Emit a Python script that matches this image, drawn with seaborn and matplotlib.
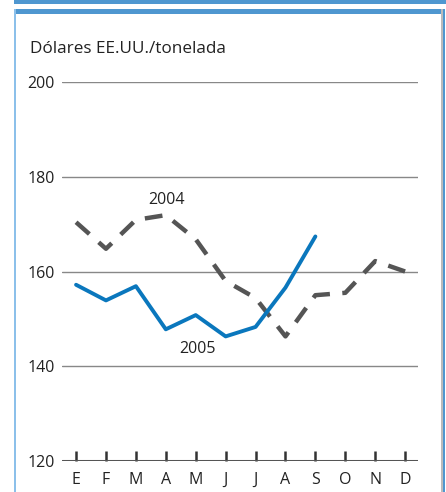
import matplotlib.pyplot as plt
import matplotlib.patches as mpatches
import seaborn as sns
import pandas as pd

# datos
meses = ['E', 'F', 'M', 'A', 'M', 'J', 'J', 'A', 'S', 'O', 'N', 'D']
precios_2004 = [170.4, 164.8, 170.9, 171.9, 166.8, 158.0, 154.4, 146.3, 155.0, 155.5, 162.2, 160.0]
precios_2005 = [157.2, 153.9, 156.9, 147.8, 150.8, 146.3, 148.3, 156.6, 167.4]
yticks = [120, 140, 160, 180, 200]

sns.set_theme(style='white')
plt.rcParams['font.family'] = ['Open Sans', 'DejaVu Sans']

df = pd.concat([
    pd.DataFrame({'mes': range(len(precios_2004)), 'precio': precios_2004, 'año': '2004'}),
    pd.DataFrame({'mes': range(len(precios_2005)), 'precio': precios_2005, 'año': '2005'}),
])

fig = plt.figure(figsize=(4.46, 4.92), dpi=100)
ax = fig.add_axes([62 / 446, 31 / 492, 356 / 446, 379 / 492])

# marco azul
azul_marco = '#4f97d0'
fig.patches.append(mpatches.Rectangle((14 / 446, 488 / 492), 432 / 446, 4 / 492,
                                      transform=fig.transFigure, color=azul_marco, lw=0))
fig.patches.append(mpatches.Rectangle((14 / 446, 478 / 492), 430 / 446, 5 / 492,
                                      transform=fig.transFigure, color=azul_marco, lw=0))
fig.patches.append(mpatches.Rectangle((14 / 446, 0), 2 / 446, 483 / 492,
                                      transform=fig.transFigure, color='#8cc0ea', lw=0))
fig.patches.append(mpatches.Rectangle((441 / 446, 0), 1.5 / 446, 483 / 492,
                                      transform=fig.transFigure, color='#bbbbbb', lw=0))
fig.patches.append(mpatches.Rectangle((442.5 / 446, 0), 2 / 446, 483 / 492,
                                      transform=fig.transFigure, color=azul_marco, lw=0))

for y in yticks[1:]:
    ax.axhline(y, color='#888888', lw=1.0, zorder=0)
ax.axhline(120, color='#555555', lw=2.2, zorder=1)

sns.lineplot(data=df[df['año'] == '2004'], x='mes', y='precio', ax=ax,
             color='#555555', lw=3.2, dashes=False, legend=False)
ax.lines[-1].set_dashes([4.0, 2.8])
ax.lines[-1].set_solid_capstyle('butt')
sns.lineplot(data=df[df['año'] == '2005'], x='mes', y='precio', ax=ax,
             color='#0a77bd', lw=2.8, legend=False)

ax.text(3.03, 175.0, '2004', fontsize=11.5, color='#222222', ha='center', va='center')
ax.text(4.05, 143.7, '2005', fontsize=11.5, color='#222222', ha='center', va='center')

ax.set_xlim(-0.47, 11.43)
ax.set_ylim(120, 200)
ax.set_xticks(range(len(meses)))
ax.set_xticklabels(meses)
ax.set_yticks(yticks)
ax.tick_params(axis='x', direction='in', length=7, width=1.8, color='#333333',
               pad=8, labelsize=11.5, labelcolor='#222222', bottom=True)
ax.tick_params(axis='y', length=0, pad=5, labelsize=11.5, labelcolor='#222222')
for s in ax.spines.values():
    s.set_visible(False)
ax.set_xlabel('')
ax.set_ylabel('')
ax.patch.set_alpha(0)

fig.text(30 / 446, 1 - 49 / 492, 'Dólares EE.UU./tonelada', fontsize=12.3,
         color='#222222', ha='left', va='center')

fig.savefig('out.png', dpi=100)
